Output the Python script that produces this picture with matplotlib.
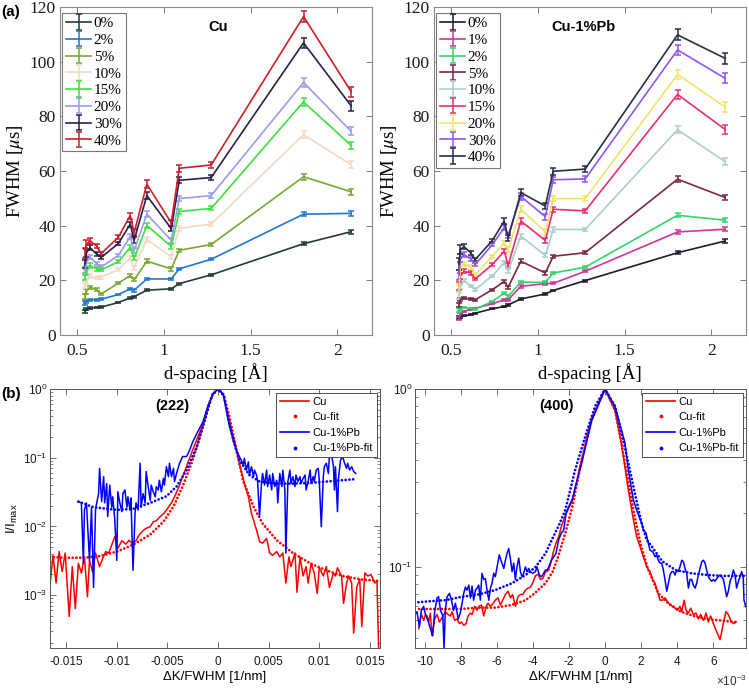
import numpy as np
import matplotlib
matplotlib.use('Agg')
import matplotlib.pyplot as plt
from matplotlib.lines import Line2D
from matplotlib.ticker import FuncFormatter, NullFormatter, LogLocator

plt.rcParams['mathtext.fontset'] = 'stix'
SERIF = ['Liberation Serif', 'DejaVu Serif']
SANS = ['Liberation Sans', 'DejaVu Sans']

# ---------------- (a) FWHM vs d-spacing ----------------
d_spacing = [0.545, 0.552, 0.573, 0.611, 0.638, 0.737, 0.805, 0.828, 0.901, 1.042, 1.088, 1.272, 1.805, 2.08]

cu_labels = ['0%', '2%', '5%', '10%', '15%', '20%', '30%', '40%']
cu_colors = ['#203a3a', '#1f77d0', '#77a832', '#f3d9c4', '#3ee03e', '#9b9bf0', '#2b1f4a', '#cc1f2a']
cu_0 = [8.6, 9.5, 9.8, 10.1, 10.2, 11.9, 13.6, 14.0, 16.4, 16.9, 18.8, 22.0, 33.4, 37.8]
cu_2 = [11.6, 12.2, 12.9, 12.9, 13.1, 14.8, 16.9, 16.4, 20.5, 20.5, 24.2, 27.7, 44.2, 44.5]
cu_5 = [14.2, 15.9, 17.5, 16.6, 15.0, 19.0, 21.7, 20.2, 27.0, 24.2, 31.0, 33.1, 57.9, 52.4]
cu_10 = [18.4, 19.5, 21.5, 20.9, 21.2, 23.9, 28.2, 24.5, 35.0, 28.6, 39.0, 40.6, 73.3, 62.3]
cu_15 = [21.5, 23.0, 25.4, 24.2, 23.9, 26.8, 32.0, 28.2, 40.1, 32.4, 45.2, 46.3, 85.3, 69.3]
cu_20 = [23.5, 26.5, 28.5, 26.1, 24.9, 29.1, 36.0, 31.0, 44.2, 34.6, 49.9, 51.0, 92.4, 74.5]
cu_30 = [26.0, 30.0, 32.0, 29.6, 28.4, 33.5, 40.5, 34.7, 51.0, 38.9, 56.6, 57.6, 106.9, 83.8]
cu_40 = [30.0, 33.0, 34.5, 32.5, 29.8, 35.8, 43.7, 37.5, 55.2, 41.0, 61.0, 62.2, 116.5, 89.0]
cu_series = [cu_0, cu_2, cu_5, cu_10, cu_15, cu_20, cu_30, cu_40]
cu_rel_err = [0.06, 0.05, 0.03, 0.025, 0.025, 0.02, 0.025, 0.03, 0.025, 0.025, 0.02, 0.016, 0.018, 0.02]

pb_labels = ['0%', '1%', '2%', '5%', '10%', '15%', '20%', '30%', '40%']
pb_colors = ['#1c1c2c', '#d0359a', '#33d46a', '#7a2a40', '#aacfd0', '#ea2f6e', '#f3e26a', '#8f55f0', '#233046']
pb_0 = [6.5, 6.7, 7.0, 7.4, 8.0, 9.6, 10.4, 11.0, 13.2, 15.0, 16.3, 19.9, 30.1, 34.4]
pb_1 = [6.0, 7.5, 8.6, 9.5, 9.8, 11.4, 12.9, 12.9, 17.8, 18.8, 18.9, 23.3, 37.7, 38.7]
pb_2 = [9.0, 9.6, 10.1, 9.8, 9.4, 12.3, 15.3, 14.1, 19.4, 19.2, 22.7, 24.8, 43.8, 42.0]
pb_5 = [11.0, 13.0, 13.5, 13.1, 12.9, 16.6, 19.6, 17.5, 27.0, 22.7, 28.8, 30.1, 57.0, 50.3]
pb_10 = [14.5, 17.8, 20.0, 18.0, 16.6, 21.7, 26.4, 23.3, 36.2, 29.1, 38.6, 38.6, 75.1, 63.4]
pb_15 = [18.0, 21.5, 23.3, 22.7, 20.5, 25.8, 30.7, 25.5, 41.7, 34.6, 46.0, 45.4, 88.0, 75.2]
pb_20 = [17.0, 25.1, 26.0, 24.9, 22.1, 28.8, 33.7, 31.3, 46.0, 37.7, 49.9, 49.9, 95.3, 83.4]
pb_30 = [22.0, 28.2, 29.4, 27.9, 25.8, 33.1, 39.3, 36.4, 50.7, 43.3, 56.8, 57.1, 104.3, 93.9]
pb_40 = [26.0, 31.3, 32.3, 30.1, 27.6, 34.6, 41.7, 35.6, 52.1, 47.2, 59.9, 60.7, 109.8, 101.2]
pb_series = [pb_0, pb_1, pb_2, pb_5, pb_10, pb_15, pb_20, pb_30, pb_40]
pb_rel_err = [0.08, 0.05, 0.03, 0.025, 0.025, 0.02, 0.025, 0.03, 0.025, 0.025, 0.02, 0.018, 0.018, 0.02]

# ---------------- (b) line profiles ----------------
# (222) reflection: dK/FWHM [1/nm], I/Imax
p222_cu_dk = [-0.0166, -0.0163, -0.0160, -0.0157, -0.0154, -0.0151, -0.0147, -0.0144, -0.0141, -0.0138,
              -0.0135, -0.0132, -0.0129, -0.0127, -0.0124, -0.0121, -0.0117, -0.0114, -0.0111, -0.0108,
              -0.0105, -0.0102, -0.0099, -0.0095, -0.0091, -0.0088, -0.0085, -0.0081, -0.0078, -0.0074,
              -0.0071, -0.0067, -0.0064, -0.0061, -0.0058, -0.0053, -0.0049, -0.0046, -0.0042, -0.0038,
              -0.0035, -0.0030, -0.0025, -0.0020, -0.0015, -0.0010, -0.0005, 0.0, 0.0005, 0.0011,
              0.0016, 0.0021, 0.0026, 0.0030, 0.0033, 0.0036, 0.0039, 0.0041, 0.0044, 0.0048,
              0.0051, 0.0054, 0.0058, 0.0061, 0.0064, 0.0067, 0.0070, 0.0072, 0.0076, 0.0078,
              0.0081, 0.0084, 0.0087, 0.0089, 0.0092, 0.0095, 0.0098, 0.0100, 0.0104, 0.0107,
              0.0110, 0.0114, 0.0116, 0.0118, 0.0122, 0.0124, 0.0127, 0.0129, 0.0132, 0.0134,
              0.0137, 0.0140, 0.0142, 0.0145, 0.0148, 0.0151, 0.0155, 0.0157, 0.0159]
p222_cu_i = [0.0014, 0.0038, 0.0015, 0.0043, 0.0022, 0.0041, 0.00049, 0.0026, 0.00064, 0.0029,
             0.0021, 0.0036, 0.00095, 0.0032, 0.0022, 0.0041, 0.0026, 0.0034, 0.0043, 0.0041,
             0.0054, 0.0071, 0.0048, 0.0062, 0.0055, 0.0063, 0.0057, 0.0062, 0.0075, 0.0087,
             0.0094, 0.0099, 0.0117, 0.0121, 0.0135, 0.0158, 0.019, 0.022, 0.029, 0.040,
             0.053, 0.083, 0.13, 0.20, 0.30, 0.55, 0.85, 1.0, 0.85, 0.35,
             0.18, 0.083, 0.042, 0.027, 0.0155, 0.0111, 0.0079, 0.0060, 0.0057, 0.0067,
             0.0041, 0.0038, 0.0043, 0.0036, 0.0041, 0.0015, 0.0036, 0.0026, 0.0041, 0.0011,
             0.0036, 0.0019, 0.0026, 0.0015, 0.0029, 0.0021, 0.00106, 0.0025, 0.0019, 0.0026,
             0.0013, 0.0021, 0.0019, 0.0025, 0.0019, 0.00076, 0.0015, 0.0019, 0.0015, 0.00028,
             0.0013, 0.0017, 0.00035, 0.0021, 0.0019, 0.0020, 0.0015, 0.0016, 0.0001]
p222_cufit_dk = [-0.0166, -0.0150, -0.0133, -0.0117, -0.0100, -0.0084, -0.0067, -0.0054, -0.0044, -0.0035,
                 -0.0025, -0.0020, -0.0015, -0.0010, -0.0005, 0.0, 0.0005, 0.0010, 0.0015, 0.0021,
                 0.0025, 0.0030, 0.0035, 0.0044, 0.0058, 0.0074, 0.0091, 0.0107, 0.0123, 0.0140, 0.0160]
p222_cufit_i = [0.0036, 0.0035, 0.0035, 0.0037, 0.0043, 0.0054, 0.0076, 0.0117, 0.0195, 0.038,
                0.093, 0.16, 0.29, 0.55, 0.86, 1.0, 0.85, 0.47, 0.22, 0.083,
                0.045, 0.030, 0.0195, 0.011, 0.0063, 0.0041, 0.0029, 0.0023, 0.0019, 0.0017, 0.0016]
p222_pb_dk = [-0.0138, -0.0135, -0.0133, -0.0132, -0.0130, -0.0127, -0.0125, -0.0123, -0.0121, -0.0118,
              -0.0117, -0.0115, -0.0113, -0.0112, -0.0110, -0.0109, -0.0107, -0.0105, -0.0104, -0.0102,
              -0.0100, -0.0099, -0.0097, -0.0095, -0.0094, -0.0092, -0.0090, -0.0089, -0.0087, -0.0086,
              -0.0084, -0.0082, -0.0081, -0.0079, -0.0077, -0.0076, -0.0074, -0.0072, -0.0071, -0.0069,
              -0.0067, -0.0066, -0.0064, -0.0062, -0.0061, -0.0059, -0.0058, -0.0056, -0.0054, -0.0053,
              -0.0051, -0.0049, -0.0048, -0.0046, -0.0044, -0.0043, -0.0041, -0.0038, -0.0035, -0.0031,
              -0.0028, -0.0025, -0.0020, -0.0015, -0.0010, -0.0005, 0.0, 0.0005, 0.0011, 0.0015,
              0.0018, 0.0021, 0.0023, 0.0025, 0.0026, 0.0028, 0.0030, 0.0031, 0.0033, 0.0035,
              0.0036, 0.0038, 0.0039, 0.0041, 0.0043, 0.0044, 0.0046, 0.0048, 0.0049, 0.0051,
              0.0053, 0.0054, 0.0056, 0.0058, 0.0059, 0.0061, 0.0063, 0.0064, 0.0066, 0.0067,
              0.0069, 0.0071, 0.0072, 0.0074, 0.0076, 0.0077, 0.0079, 0.0081, 0.0082, 0.0084,
              0.0086, 0.0087, 0.0089, 0.0091, 0.0092, 0.0094, 0.0095, 0.0097, 0.0099, 0.0100,
              0.0102, 0.0104, 0.0105, 0.0107, 0.0109, 0.0110, 0.0112, 0.0114, 0.0115, 0.0116,
              0.0118, 0.0119, 0.0121, 0.0123, 0.0125, 0.0127, 0.0128, 0.0130, 0.0132, 0.0134, 0.0136]
p222_pb_i = [0.023, 0.022, 0.0029, 0.0173, 0.022, 0.0032, 0.019, 0.0013, 0.018, 0.030,
             0.070, 0.023, 0.053, 0.022, 0.042, 0.0139, 0.040, 0.019, 0.027, 0.0124,
             0.0032, 0.032, 0.022, 0.0164, 0.030, 0.034, 0.019, 0.027, 0.0173, 0.026,
             0.0023, 0.0155, 0.022, 0.0173, 0.083, 0.019, 0.030, 0.022, 0.063, 0.038,
             0.024, 0.040, 0.032, 0.027, 0.038, 0.034, 0.047, 0.032, 0.050, 0.040,
             0.074, 0.053, 0.083, 0.053, 0.070, 0.045, 0.059, 0.083, 0.104, 0.104,
             0.13, 0.17, 0.24, 0.33, 0.56, 0.86, 1.0, 0.85, 0.30, 0.18,
             0.13, 0.104, 0.092, 0.078, 0.098, 0.066, 0.087, 0.056, 0.074, 0.053,
             0.066, 0.056, 0.047, 0.0139, 0.045, 0.059, 0.040, 0.066, 0.038, 0.056,
             0.034, 0.059, 0.038, 0.047, 0.022, 0.059, 0.038, 0.066, 0.034, 0.0041,
             0.045, 0.066, 0.042, 0.053, 0.038, 0.056, 0.045, 0.053, 0.042, 0.050,
             0.056, 0.034, 0.045, 0.066, 0.042, 0.053, 0.045, 0.066, 0.070, 0.047,
             0.0099, 0.053, 0.074, 0.083, 0.059, 0.104, 0.116, 0.074, 0.034, 0.074,
             0.0164, 0.050, 0.092, 0.104, 0.083, 0.070, 0.083, 0.066, 0.074, 0.063, 0.059]
p222_pbfit_dk = [-0.0138, -0.0123, -0.0100, -0.0084, -0.0067, -0.0051, -0.0041, -0.0031, -0.0021, -0.0013,
                 -0.0006, 0.0, 0.0006, 0.0011, 0.0016, 0.0021, 0.0031, 0.0041, 0.0058, 0.0074,
                 0.0091, 0.0107, 0.0123, 0.0137]
p222_pbfit_i = [0.023, 0.019, 0.0174, 0.018, 0.022, 0.0275, 0.038, 0.066, 0.145, 0.35,
                0.80, 1.0, 0.78, 0.32, 0.16, 0.093, 0.056, 0.045, 0.042, 0.042,
                0.043, 0.045, 0.047, 0.049]

# (400) reflection: dK/FWHM in units of 1e-3 1/nm
p400_cu_dk = [-10.32, -10.18, -10.05, -9.95, -9.86, -9.77, -9.68, -9.59, -9.44, -9.31,
              -9.18, -9.07, -8.94, -8.85, -8.70, -8.57, -8.48, -8.33, -8.20, -8.07,
              -7.96, -7.83, -7.70, -7.59, -7.46, -7.37, -7.22, -7.09, -7.00, -6.85,
              -6.72, -6.59, -6.48, -6.35, -6.22, -6.08, -5.93, -5.80, -5.67, -5.52,
              -5.37, -5.24, -5.12, -4.97, -4.82, -4.69, -4.56, -4.41, -4.27, -4.14,
              -4.01, -3.86, -3.71, -3.58, -3.45, -3.31, -3.12, -2.97, -2.84, -2.72,
              -2.57, -2.42, -2.29, -2.16, -2.01, -1.83, -1.30, -0.75, 0.0, 0.55,
              0.90, 1.29, 1.57, 1.75, 1.94, 2.12, 2.31, 2.49, 2.64, 2.77,
              2.90, 3.05, 3.19, 3.32, 3.45, 3.60, 3.75, 3.88, 4.01, 4.15,
              4.25, 4.38, 4.49, 4.62, 4.75, 4.89, 5.04, 5.17, 5.30, 5.45,
              5.60, 5.72, 5.85, 6.00, 6.15, 6.28, 6.37, 6.46, 6.59, 6.70,
              6.83, 6.96, 7.11, 7.26]
p400_cu_i = [0.045, 0.054, 0.050, 0.054, 0.053, 0.049, 0.055, 0.041, 0.051, 0.054,
             0.049, 0.051, 0.054, 0.056, 0.054, 0.053, 0.056, 0.050, 0.051, 0.048,
             0.049, 0.047, 0.048, 0.053, 0.055, 0.054, 0.060, 0.057, 0.060, 0.061,
             0.053, 0.060, 0.0625, 0.060, 0.062, 0.065, 0.067, 0.061, 0.065, 0.070,
             0.073, 0.067, 0.070, 0.060, 0.068, 0.070, 0.070, 0.074, 0.076, 0.077,
             0.081, 0.089, 0.091, 0.085, 0.086, 0.093, 0.096, 0.109, 0.124, 0.136,
             0.148, 0.169, 0.184, 0.200, 0.214, 0.233, 0.40, 0.67, 1.0, 0.76,
             0.50, 0.27, 0.184, 0.148, 0.130, 0.114, 0.100, 0.094, 0.085, 0.081,
             0.073, 0.065, 0.065, 0.067, 0.064, 0.061, 0.060, 0.0586, 0.057, 0.060,
             0.056, 0.065, 0.057, 0.055, 0.0586, 0.054, 0.055, 0.051, 0.054, 0.050,
             0.055, 0.049, 0.053, 0.048, 0.044, 0.041, 0.039, 0.043, 0.050, 0.056,
             0.054, 0.050, 0.048, 0.049]
p400_cufit_dk = [-10.3, -9.0, -8.0, -7.0, -6.1, -5.2, -4.4, -3.9, -3.3, -2.9,
                 -2.6, -2.2, -1.8, -1.3, -0.75, 0.0, 0.55, 0.9, 1.3, 1.65,
                 2.0, 2.4, 2.95, 3.5, 4.2, 5.0, 5.7, 6.5, 7.3]
p400_cufit_i = [0.058, 0.058, 0.058, 0.059, 0.059, 0.061, 0.065, 0.071, 0.081, 0.094,
                0.114, 0.155, 0.22, 0.40, 0.67, 1.0, 0.76, 0.50, 0.295, 0.19,
                0.13, 0.096, 0.071, 0.0625, 0.056, 0.0526, 0.0508, 0.0499, 0.0489]
p400_pb_dk = [-10.69, -10.55, -10.42, -10.29, -10.18, -10.05, -9.95, -9.81, -9.68, -9.55,
              -9.44, -9.31, -9.22, -9.12, -8.99, -8.92, -8.85, -8.75, -8.62, -8.51,
              -8.39, -8.29, -8.14, -8.02, -7.92, -7.83, -7.74, -7.65, -7.55, -7.46,
              -7.37, -7.28, -7.18, -7.09, -7.00, -6.91, -6.82, -6.72, -6.63, -6.54,
              -6.44, -6.35, -6.26, -6.17, -6.08, -5.98, -5.86, -5.74, -5.61, -5.52,
              -5.43, -5.34, -5.25, -5.15, -5.06, -4.97, -4.88, -4.78, -4.69, -4.60,
              -4.51, -4.41, -4.32, -4.23, -4.14, -4.01, -3.86, -3.77, -3.64, -3.53,
              -3.40, -3.31, -3.21, -3.12, -2.97, -2.84, -2.72, -2.57, -2.42, -2.29,
              -2.16, -2.01, -1.83, -1.30, -0.75, 0.0, 0.55, 1.10, 1.29, 1.57,
              1.75, 1.85, 2.03, 2.12, 2.27, 2.40, 2.49, 2.64, 2.77, 2.86,
              2.95, 3.05, 3.14, 3.23, 3.32, 3.42, 3.51, 3.60, 3.69, 3.79,
              3.88, 3.97, 4.06, 4.15, 4.25, 4.34, 4.43, 4.52, 4.62, 4.71,
              4.80, 4.89, 4.99, 5.08, 5.17, 5.26, 5.36, 5.45, 5.54, 5.63,
              5.73, 5.82, 5.91, 6.00, 6.09, 6.19, 6.28, 6.37, 6.46, 6.56,
              6.65, 6.74, 6.83, 6.93, 7.02, 7.11, 7.20, 7.29, 7.39, 7.48,
              7.57, 7.66, 7.70, 7.79, 7.85]
p400_pb_i = [0.057, 0.054, 0.056, 0.046, 0.057, 0.060, 0.054, 0.050, 0.045, 0.041,
             0.056, 0.067, 0.068, 0.057, 0.053, 0.035, 0.057, 0.068, 0.071, 0.065,
             0.057, 0.0625, 0.051, 0.055, 0.0625, 0.071, 0.077, 0.074, 0.079, 0.067,
             0.078, 0.065, 0.074, 0.076, 0.079, 0.065, 0.092, 0.085, 0.086, 0.074,
             0.065, 0.076, 0.081, 0.092, 0.088, 0.100, 0.117, 0.107, 0.098, 0.109,
             0.119, 0.127, 0.112, 0.094, 0.105, 0.085, 0.100, 0.112, 0.094, 0.088,
             0.092, 0.100, 0.094, 0.098, 0.094, 0.092, 0.094, 0.100, 0.090, 0.088,
             0.092, 0.096, 0.096, 0.100, 0.109, 0.114, 0.119, 0.142, 0.155, 0.161,
             0.200, 0.218, 0.238, 0.38, 0.66, 1.0, 0.80, 0.50, 0.35, 0.238,
             0.209, 0.196, 0.176, 0.161, 0.155, 0.136, 0.124, 0.122, 0.114, 0.117,
             0.109, 0.105, 0.105, 0.096, 0.085, 0.073, 0.081, 0.090, 0.094, 0.094,
             0.090, 0.096, 0.094, 0.100, 0.109, 0.107, 0.098, 0.092, 0.076, 0.085,
             0.085, 0.079, 0.076, 0.081, 0.090, 0.098, 0.107, 0.109, 0.105, 0.096,
             0.088, 0.085, 0.083, 0.085, 0.083, 0.086, 0.088, 0.090, 0.088, 0.085,
             0.076, 0.068, 0.073, 0.083, 0.088, 0.096, 0.090, 0.076, 0.083, 0.088,
             0.094, 0.086, 0.065, 0.060, 0.059]
p400_pbfit_dk = [-10.55, -9.8, -8.85, -7.9, -7.0, -6.1, -5.15, -4.4, -3.85, -3.3,
                 -2.95, -2.55, -2.2, -1.66, -1.1, -0.55, 0.0, 0.55, 1.1, 1.65,
                 2.0, 2.3, 2.6, 3.15, 3.9, 4.8, 5.7, 6.5, 7.8]
p400_pbfit_i = [0.063, 0.064, 0.065, 0.068, 0.070, 0.074, 0.081, 0.090, 0.100, 0.119,
                0.142, 0.172, 0.209, 0.35, 0.54, 0.80, 1.0, 0.80, 0.47, 0.26,
                0.18, 0.142, 0.13, 0.108, 0.096, 0.092, 0.090, 0.089, 0.089]

# ---------------- figure ----------------
W, H = 749, 688
fig = plt.figure(figsize=(W / 100, H / 100), dpi=100)


def box(l, t, r, b):
    return [l / W, 1 - b / H, (r - l) / W, (b - t) / H]


ax1 = fig.add_axes(box(60, 7, 372, 335))
ax2 = fig.add_axes(box(434, 7, 746, 335))
ax3 = fig.add_axes(box(50, 389, 380, 648))
ax4 = fig.add_axes(box(415, 389, 746, 648))


def draw_top(ax, series, labels, colors, rel_err, title, title_x):
    d = np.array(d_spacing)
    for vals, lab, col in zip(series, labels, colors):
        v = np.array(vals)
        ax.errorbar(d, v, yerr=v * np.array(rel_err), color=col, lw=1.2,
                    elinewidth=1.1, capsize=2.2, capthick=1.1, label=lab)
    ax.set_xlim(0.4, 2.2)
    ax.set_ylim(0, 120)
    ax.set_xticks([0.5, 1, 1.5, 2])
    ax.set_yticks(range(0, 121, 20))
    ax.xaxis.set_major_formatter(FuncFormatter(lambda v, p: f'{v:g}'))
    ax.tick_params(direction='in', top=True, right=True, length=4, width=0.7,
                   colors='#7a7a7a', labelcolor='#1a1a1a', labelsize=12.5,
                   labelfontfamily=SERIF)
    ax.tick_params(axis='x', pad=6)
    ax.tick_params(axis='y', pad=3)
    for s in ax.spines.values():
        s.set_color('#8a8a8a')
        s.set_linewidth(0.8)
    ax.set_ylabel('FWHM [$\\mu$s]', family=SERIF, fontsize=13.5, labelpad=3)
    ax.set_xlabel('d-spacing [Å]', family=SERIF, fontsize=13.5, labelpad=3)
    leg = ax.legend(loc='upper left', bbox_to_anchor=(0.008, 0.982), borderaxespad=0.0,
                    prop={'family': SERIF, 'size': 11},
                    handlelength=1.6, handletextpad=0.2, labelspacing=0.2,
                    borderpad=0.25, frameon=True, fancybox=False, framealpha=1)
    leg.get_frame().set_edgecolor('#777777')
    leg.get_frame().set_linewidth(0.8)
    ax.text(title_x, 0.939, title, transform=ax.transAxes, ha='center', va='center',
            family=SANS, fontsize=10.5, fontweight='bold')


draw_top(ax1, cu_series, cu_labels, cu_colors, cu_rel_err, 'Cu', 0.506)
draw_top(ax2, pb_series, pb_labels, pb_colors, pb_rel_err, 'Cu-1%Pb', 0.478)

dotted = (0, (0.01, 1.35))


def style_bottom(ax):
    ax.set_yscale('log')
    ax.tick_params(which='both', direction='in', top=True, right=True, colors='#555555',
                   labelcolor='#1a1a1a', labelsize=8.5, labelfontfamily=SANS)
    ax.tick_params(which='major', length=4, width=0.6)
    ax.tick_params(which='minor', length=2, width=0.5)
    ax.tick_params(axis='x', pad=6)
    ax.tick_params(axis='y', pad=2)
    ax.yaxis.set_major_locator(LogLocator(base=10))
    ax.yaxis.set_major_formatter(FuncFormatter(
        lambda v, p: r'$\mathregular{10^{%d}}$' % int(round(np.log10(v)))))
    ax.yaxis.set_minor_locator(LogLocator(base=10, subs=np.arange(2, 10)))
    ax.yaxis.set_minor_formatter(NullFormatter())
    for s in ax.spines.values():
        s.set_color('#555555')
        s.set_linewidth(0.7)
    ax.set_xlabel('ΔK/FWHM [1/nm]', family=SANS, fontsize=9.5, labelpad=2)


def draw_profiles(ax, cu_x, cu_y, cf_x, cf_y, pb_x, pb_y, pf_x, pf_y):
    ax.plot(cu_x, cu_y, color='#ff0000', lw=1.1)
    ax.plot(cf_x, cf_y, color='#ff0000', lw=2.0, ls=dotted, dash_capstyle='round')
    ax.plot(pb_x, pb_y, color='#0000ff', lw=1.1)
    ax.plot(pf_x, pf_y, color='#0000ff', lw=2.0, ls=dotted, dash_capstyle='round')
    handles = [Line2D([], [], color='#ff0000', lw=1.2),
               Line2D([], [], color='#ff0000', ls='none', marker='.', ms=3.5),
               Line2D([], [], color='#0000ff', lw=1.2),
               Line2D([], [], color='#0000ff', ls='none', marker='.', ms=3.5)]
    leg = ax.legend(handles, ['Cu', 'Cu-fit', 'Cu-1%Pb', 'Cu-1%Pb-fit'], loc='upper right',
                    bbox_to_anchor=(0.99, 0.985), borderaxespad=0.0,
                    prop={'family': SANS, 'size': 8}, handlelength=2.6, handletextpad=0.3,
                    labelspacing=0.5, borderpad=0.35, fancybox=False, framealpha=1)
    leg.get_frame().set_edgecolor('#333333')
    leg.get_frame().set_linewidth(0.6)


draw_profiles(ax3, p222_cu_dk, p222_cu_i, p222_cufit_dk, p222_cufit_i,
              p222_pb_dk, p222_pb_i, p222_pbfit_dk, p222_pbfit_i)
style_bottom(ax3)
ax3.set_xlim(-0.0166, 0.0160)
ax3.set_ylim(1.7e-4, 1.0)
ax3.set_xticks([-0.015, -0.01, -0.005, 0, 0.005, 0.01, 0.015])
ax3.xaxis.set_major_formatter(FuncFormatter(lambda v, p: '0' if abs(v) < 1e-12 else f'{v:g}'))
ax3.set_ylabel(r'I/I$\mathregular{_{max}}$', family=SANS, fontsize=9.5, labelpad=2)
ax3.text(0.37, 0.935, '(222)', transform=ax3.transAxes, ha='center', va='center',
         family=SANS, fontsize=10.5, fontweight='bold')

milli = 1e-3
draw_profiles(ax4, np.array(p400_cu_dk) * milli, p400_cu_i,
              np.array(p400_cufit_dk) * milli, p400_cufit_i,
              np.array(p400_pb_dk) * milli, p400_pb_i,
              np.array(p400_pbfit_dk) * milli, p400_pbfit_i)
style_bottom(ax4)
ax4.set_xlim(-10.53e-3, 7.81e-3)
ax4.set_ylim(0.035, 1.0)
ax4.set_xticks(np.arange(-10, 7, 2) * milli)
ax4.xaxis.set_major_formatter(FuncFormatter(lambda v, p: f'{round(v / milli):d}'))
ax4.text(0.426, 0.935, '(400)', transform=ax4.transAxes, ha='center', va='center',
         family=SANS, fontsize=10.5, fontweight='bold')
fig.text(747 / W, 1 - 681 / H, r'$\mathregular{\times10^{-3}}$', ha='right', va='center',
         family=SANS, fontsize=8.5, color='#333333')

fig.text(1 / W, 1 - 12 / H, '(a)', ha='left', va='center', family=SANS, fontsize=11, fontweight='bold')
fig.text(1 / W, 1 - 394 / H, '(b)', ha='left', va='center', family=SANS, fontsize=11, fontweight='bold')

fig.savefig('out.png', dpi=100)
